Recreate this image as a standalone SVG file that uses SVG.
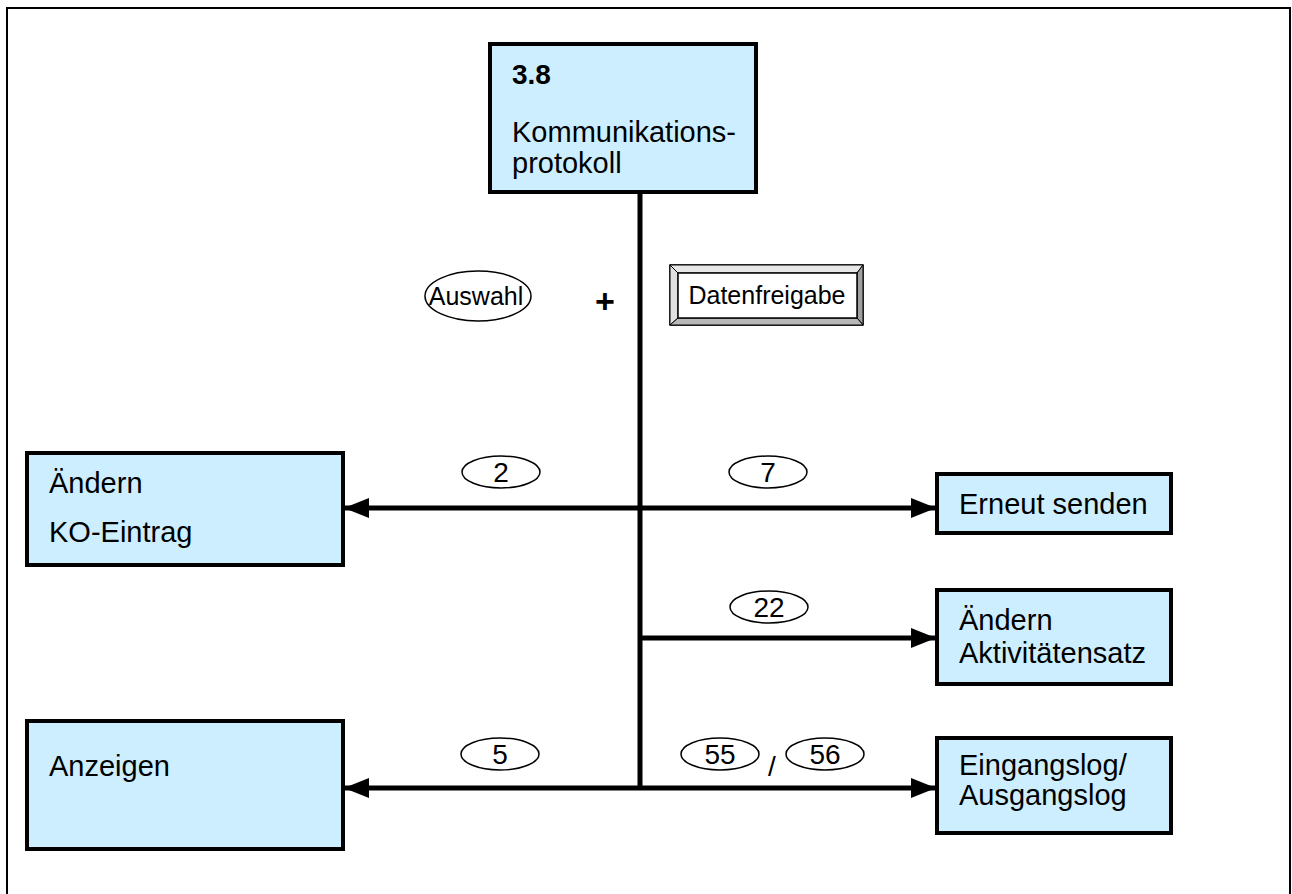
<svg xmlns="http://www.w3.org/2000/svg" width="1292" height="894" viewBox="0 0 1292 894">
<style>
.node{fill:#cceeff;stroke:#000;stroke-width:4}
.t{font-family:"Liberation Sans",Arial,sans-serif;font-size:29px;fill:#000}
.tb{font-family:"Liberation Sans",Arial,sans-serif;font-size:28px;font-weight:bold;fill:#000}
.num{font-family:"Liberation Sans",Arial,sans-serif;font-size:28px;fill:#000;text-anchor:middle}
.aw{font-family:"Liberation Sans",Arial,sans-serif;font-size:25px;fill:#000;text-anchor:middle}
.df{font-family:"Liberation Sans",Arial,sans-serif;font-size:25px;fill:#000;text-anchor:middle}
.plus{font-family:"Liberation Sans",Arial,sans-serif;font-size:34px;font-weight:bold;fill:#000;text-anchor:middle}
.lbl{fill:#fff;stroke:#000;stroke-width:1.5}
.c{stroke:#000;stroke-width:5;fill:none}
</style>
<defs>
<marker id="ah" markerWidth="5" markerHeight="4" refX="4.8" refY="2" orient="auto" markerUnits="strokeWidth">
<path d="M0,0 L5,2 L0,4 Z" fill="#000"/>
</marker>
</defs>
<rect x="7" y="8" width="1283" height="900" fill="#fff" stroke="#000" stroke-width="2"/>
<g id="connectors">
<line class="c" x1="640" y1="192" x2="640" y2="790"/>
<line class="c" x1="640" y1="508" x2="345" y2="508" marker-end="url(#ah)"/>
<line class="c" x1="640" y1="508" x2="935" y2="508" marker-end="url(#ah)"/>
<line class="c" x1="640" y1="638" x2="935" y2="638" marker-end="url(#ah)"/>
<line class="c" x1="640" y1="788" x2="345" y2="788" marker-end="url(#ah)"/>
<line class="c" x1="640" y1="788" x2="935" y2="788" marker-end="url(#ah)"/>
</g>
<g id="labels">
<ellipse class="lbl" cx="501" cy="472" rx="39" ry="16"/>
<text class="num" x="501" y="482">2</text>
<ellipse class="lbl" cx="768" cy="472" rx="39" ry="16"/>
<text class="num" x="768" y="482">7</text>
<ellipse class="lbl" cx="769" cy="607" rx="39" ry="16"/>
<text class="num" x="769" y="617">22</text>
<ellipse class="lbl" cx="500" cy="754" rx="39" ry="16"/>
<text class="num" x="500" y="764">5</text>
<ellipse class="lbl" cx="720" cy="754" rx="39" ry="16"/>
<text class="num" x="720" y="764">55</text>
<text class="num" x="772" y="776">/</text>
<ellipse class="lbl" cx="825" cy="754" rx="39" ry="16"/>
<text class="num" x="825" y="764">56</text>
</g>
<g id="auswahl">
<ellipse class="lbl" cx="478" cy="296" rx="53" ry="25"/>
<text class="aw" x="476" y="305">Auswahl</text>
</g>
<text class="plus" x="605" y="313">+</text>
<g id="datenfreigabe">
<rect x="670" y="265" width="193" height="60" fill="#fff" stroke="#000" stroke-width="1.5"/>
<polygon points="670,265 863,265 857,273 678,273" fill="#e8e8e8" stroke="#000" stroke-width="1"/>
<polygon points="670,265 678,273 678,318 670,325" fill="#e0e0e0" stroke="#000" stroke-width="1"/>
<polygon points="863,265 863,325 857,318 857,273" fill="#a0a0a0" stroke="#000" stroke-width="1"/>
<polygon points="670,325 863,325 857,318 678,318" fill="#b8b8b8" stroke="#000" stroke-width="1"/>
<rect x="678" y="273" width="179" height="45" fill="#fff" stroke="#000" stroke-width="1.5"/>
<text class="df" x="767" y="304">Datenfreigabe</text>
</g>
<g id="n38">
<rect class="node" x="490" y="44" width="266" height="148"/>
<text class="tb" x="512" y="84">3.8</text>
<text class="t" x="512" y="142">Kommunikations-</text>
<text class="t" x="512" y="173">protokoll</text>
</g>
<g id="ko">
<rect class="node" x="27" y="453" width="316" height="112"/>
<text class="t" x="49" y="493">Ändern</text>
<text class="t" x="49" y="542">KO-Eintrag</text>
</g>
<g id="erneut">
<rect class="node" x="937" y="474" width="234" height="59"/>
<text class="t" x="959" y="514">Erneut senden</text>
</g>
<g id="aktiv">
<rect class="node" x="937" y="590" width="234" height="94"/>
<text class="t" x="959" y="630">Ändern</text>
<text class="t" x="959" y="663">Aktivitätensatz</text>
</g>
<g id="anzeigen">
<rect class="node" x="27" y="721" width="316" height="128"/>
<text class="t" x="49" y="776">Anzeigen</text>
</g>
<g id="log">
<rect class="node" x="937" y="738" width="234" height="95"/>
<text class="t" x="959" y="775">Eingangslog/</text>
<text class="t" x="959" y="805">Ausgangslog</text>
</g>
</svg>
